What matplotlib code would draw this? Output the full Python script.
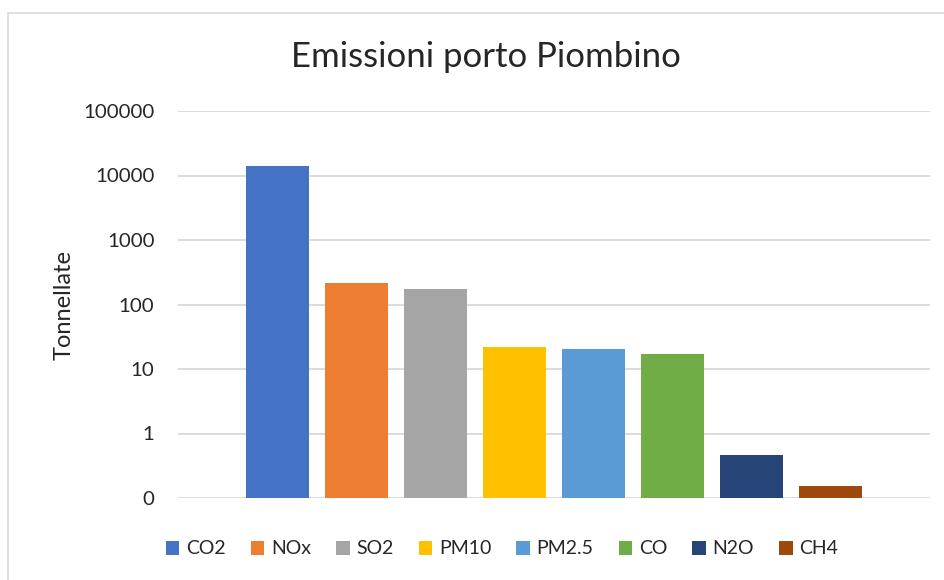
import matplotlib
matplotlib.use("Agg")
import matplotlib.pyplot as plt
from matplotlib.patches import Rectangle, Patch
import numpy as np

# emissioni annue per inquinante (tonnellate)
inquinanti = ['CO2', 'NOx', 'SO2', 'PM10', 'PM2.5', 'CO', 'N2O', 'CH4']
tonnellate = [14000, 214, 173, 22, 20.5, 17.1, 0.46, 0.152]
colori = ['#4472C4', '#ED7D31', '#A5A5A5', '#FFC000',
          '#5B9BD5', '#70AD47', '#264478', '#9E480E']
tick_valori = [0.1, 1, 10, 100, 1000, 10000, 100000]
tick_etichette = ['0', '1', '10', '100', '1000', '10000', '100000']

plt.rcParams['font.family'] = ['Lato', 'DejaVu Sans']

W, H = 945, 580
fig = plt.figure(figsize=(W / 100, H / 100), dpi=100)

# cornice dell'area grafico
fig.patches.append(Rectangle((8.5 / W, -0.01), 1.0, 1 - 12.5 / H + 0.01,
                             transform=fig.transFigure, fill=False,
                             edgecolor='#D9D9D9', lw=1.2))

ax = fig.add_axes([178 / W, 1 - 498 / H, (930 - 178) / W, (498 - 111) / H])

pos_x = np.arange(len(inquinanti))
base = tick_valori[0]
ax.bar(pos_x, [v - base for v in tonnellate], bottom=base, width=0.8,
       color=colori, zorder=3)

ax.set_yscale('log')
ax.set_ylim(tick_valori[0], tick_valori[-1])
ax.set_xlim(-0.4 - 68 / 79, len(inquinanti) - 0.6 + 68 / 79)
ax.set_yticks(tick_valori)
ax.set_yticklabels(tick_etichette)
ax.yaxis.set_minor_locator(matplotlib.ticker.NullLocator())
ax.set_xticks([])
ax.tick_params(axis='y', length=0, pad=17, labelsize=14.7, labelcolor='#262626')
ax.grid(axis='y', color='#D9D9D9', lw=1.3, zorder=0)
for lato in ax.spines.values():
    lato.set_visible(False)

ax.set_ylabel('Tonnellate', fontsize=17, color='#262626', labelpad=6)

fig.text(486 / W, 1 - 57 / H, 'Emissioni porto Piombino', fontsize=25,
         ha='center', va='center', color='#262626')

maniglie = [Patch(facecolor=c, label=n) for c, n in zip(colori, inquinanti)]
fig.legend(handles=maniglie, loc='center', ncol=len(inquinanti),
           bbox_to_anchor=(502 / W, 1 - 549 / H), frameon=False,
           fontsize=14, handlelength=0.7, handleheight=0.7,
           handletextpad=0.35, columnspacing=1.28, labelcolor='#262626')

fig.savefig('out.png', dpi=100, facecolor='white')
